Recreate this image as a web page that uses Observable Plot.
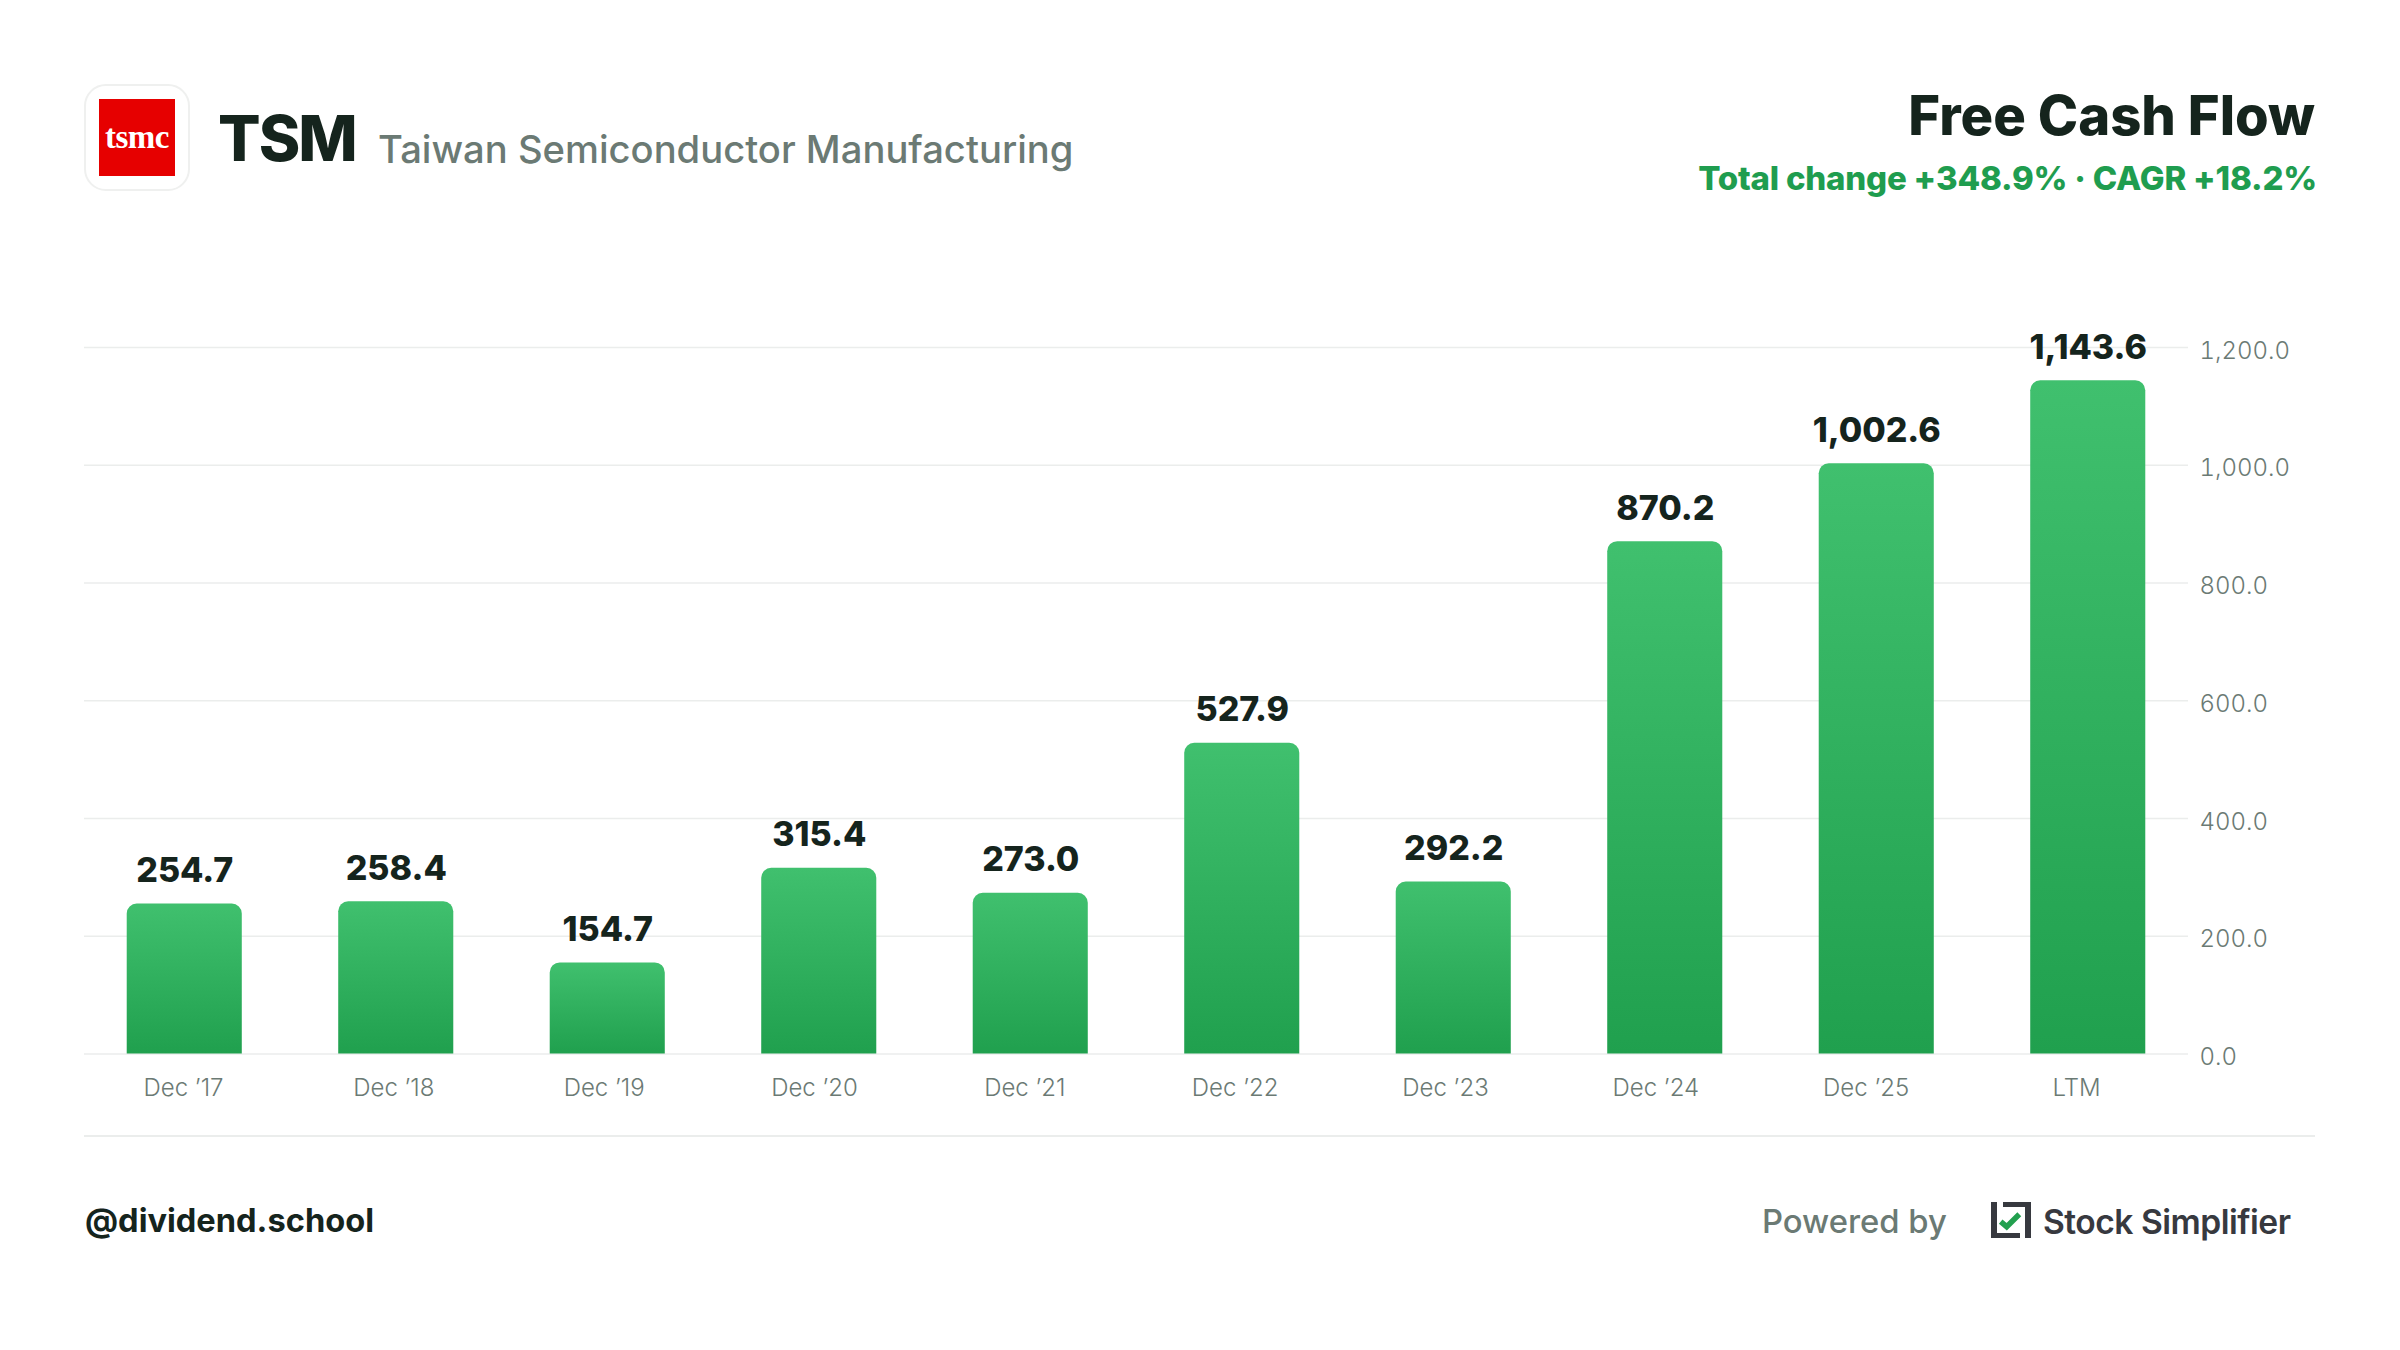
<!DOCTYPE html>
<html>
<head>
<meta charset="utf-8">
<script src="https://cdn.jsdelivr.net/npm/d3@7"></script>
<script src="https://cdn.jsdelivr.net/npm/@observablehq/plot@0.6"></script>
<style>
html,body{margin:0;padding:0;background:#fff;width:2400px;height:1350px;overflow:hidden;font-family:Inter,sans-serif}
.t{position:absolute;white-space:nowrap;line-height:1}
#plot,#axis{position:absolute;left:0}
#plot{top:250px}
#axis{top:1053px}
</style>
</head>
<body>
<div class="t" style="left:84px;top:84px;width:102px;height:103px;border:2px solid #eff0ef;border-radius:22px"></div>
<div class="t" style="left:99px;top:99px;width:76px;height:77px;background:#e60000;color:#fff;font:700 33px 'Liberation Serif',serif;display:flex;align-items:center;justify-content:center;letter-spacing:-.5px">tsmc</div>
<div class="t" id="ticker" style="left:218px;top:107px;font-size:63px;font-weight:800;color:#15241d;letter-spacing:-2px">TSM</div>
<div class="t" id="name" style="left:378px;top:130px;font-size:38.2px;font-weight:500;color:#6b7a74">Taiwan Semiconductor Manufacturing</div>
<div class="t" id="metric" style="right:85px;top:88px;font-size:54.4px;font-weight:800;color:#15241d">Free Cash Flow</div>
<div class="t" id="change" style="right:83px;top:162px;font-size:33px;font-weight:800;color:#1f9d4f;letter-spacing:-.2px">Total change +348.9% · CAGR +18.2%</div>
<div id="plot"></div>
<div id="axis"></div>
<div class="t" style="left:84px;top:1135px;width:2231px;height:2px;background:#ebedec"></div>
<div class="t" id="handle" style="left:85px;top:1204px;font-size:32.6px;font-weight:700;color:#15241d">@dividend.school</div>
<div class="t" id="powered" style="left:1762px;top:1205px;font-size:32.8px;font-weight:500;color:#6b7a74">Powered by</div>
<svg style="position:absolute;left:1991px;top:1202px" width="40" height="36" viewBox="0 0 40 36">
  <g fill="#37393f"><rect x="0" y="0" width="6" height="36"/><rect x="0" y="31" width="29" height="5"/><rect x="12" y="0" width="28" height="5"/><rect x="34" y="0" width="6" height="36"/></g>
  <path d="M9.7 19.7l6 5L28.3 12.3" stroke="#22a04f" stroke-width="5.5" fill="none"/>
</svg>
<div class="t" id="brand" style="left:2043px;top:1205px;font-size:33.6px;font-weight:600;color:#37393f;letter-spacing:-.5px">Stock Simplifier</div>
<script>
const periods = ["Dec ’17","Dec ’18","Dec ’19","Dec ’20","Dec ’21","Dec ’22","Dec ’23","Dec ’24","Dec ’25","LTM"];
const freeCashFlow = [254.7,258.4,154.7,315.4,273.0,527.9,292.2,870.2,1002.6,1143.6];
const yTicks = [0,200,400,600,800,1000,1200];
const rows = periods.map((period,i)=>({period,value:freeCashFlow[i]}));
const fmt = d3.format(",.1f");
const gradient = () => {
  const defs = d3.create("svg:defs");
  const g = defs.append("linearGradient").attr("id","barGradient").attr("x1",0).attr("y1",0).attr("x2",0).attr("y2",1);
  g.append("stop").attr("offset","0%").attr("stop-color","#40c06e");
  g.append("stop").attr("offset","100%").attr("stop-color","#20a04e");
  return defs.node();
};
const main = Plot.plot({
  width:2400,height:900,marginLeft:84,marginRight:212,marginTop:97,marginBottom:96.5,
  style:{background:"transparent",fontFamily:"Inter,sans-serif"},
  x:{domain:periods,range:[78.5,2193.5],paddingInner:0.456,paddingOuter:0.228,round:false,axis:null},
  y:{domain:[0,1200],ticks:yTicks,label:null},
  marks:[
    gradient,
    Plot.ruleY(yTicks,{stroke:"#ebedec",strokeWidth:1.5}),
    Plot.axisY(yTicks,{anchor:"right",tickSize:0,tickPadding:11,label:null,dy:3.5,fontSize:24,fontWeight:300,fill:"#6b7a74",tickFormat:fmt}),
    Plot.barY(rows,{x:"period",y:"value",fill:"url(#barGradient)",ry1:10}),
    Plot.text(rows,{x:"period",y:"value",text:d=>fmt(d.value),dy:-33,fontSize:34,fontWeight:800,fill:"#15241d"})
  ]
});
document.getElementById("plot").append(main);
const axis = Plot.plot({
  width:2400,height:60,marginTop:0,marginBottom:60,marginLeft:84,marginRight:212,
  style:{background:"transparent",fontFamily:"Inter,sans-serif"},
  x:{type:"band",domain:periods,range:[77.85,2181.15],padding:0,round:false,label:null},
  marks:[
    Plot.axisX({anchor:"bottom",tickSize:0,tickPadding:25,label:null,fontSize:24,fontWeight:300,fill:"#6b7a74"})
  ]
});
document.getElementById("axis").append(axis);
</script>
</body>
</html>
